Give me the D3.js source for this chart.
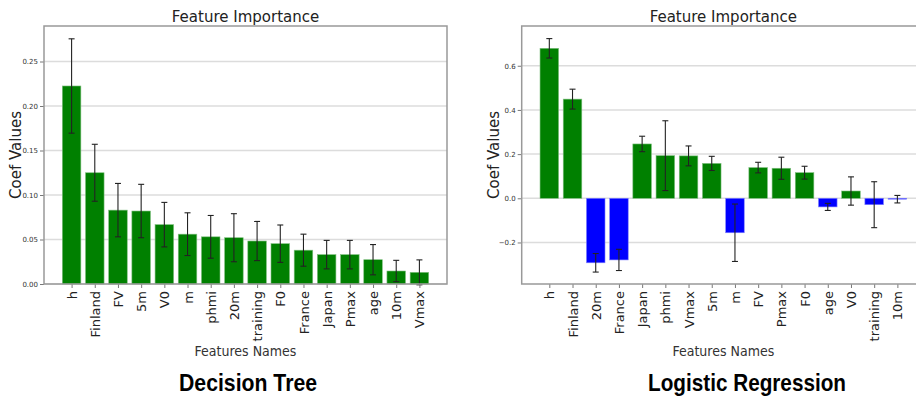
<!DOCTYPE html>
<html><head><meta charset="utf-8">
<script src="https://cdn.jsdelivr.net/npm/d3@7"></script>
<style>
html,body{margin:0;padding:0;background:#fff;}
svg{display:block;}
</style></head>
<body>
<svg id="chart" width="916" height="400"></svg>
<script>
// Decision Tree feature importance
const dtFeatures = ["h","Finland","FV","5m","V0","m","phmi","20m","training","F0","France","Japan","Pmax","age","10m","Vmax"];
const dtValues = [0.2225,0.125,0.083,0.082,0.0667,0.056,0.053,0.052,0.0483,0.0453,0.038,0.033,0.033,0.0273,0.0146,0.0131];
const dtErrors = [0.053,0.032,0.030,0.030,0.025,0.024,0.024,0.027,0.022,0.021,0.018,0.016,0.016,0.017,0.012,0.014];
const dtTicks = [0.00,0.05,0.10,0.15,0.20,0.25];

// Logistic Regression coefficients
const lrFeatures = ["h","Finland","20m","France","Japan","phmi","Vmax","5m","m","FV","Pmax","F0","age","V0","training","10m"];
const lrValues = [0.679,0.449,-0.292,-0.279,0.246,0.193,0.192,0.158,-0.156,0.139,0.136,0.116,-0.039,0.033,-0.029,-0.004];
const lrErrors = [0.044,0.045,0.042,0.048,0.035,0.158,0.045,0.032,0.13,0.024,0.05,0.029,0.016,0.064,0.104,0.017];
const lrTicks = [-0.2,0.0,0.2,0.4,0.6];

const titleText = "Feature Importance";
const xLabelText = "Features Names";
const yLabelText = "Coef Values";
const captions = ["Decision Tree","Logistic Regression"];

const svg = d3.select("#chart");

function panel(cfg){
  const {features, values, errors, ticks, yDomain, left, right, top, bottom, fmt, caption} = cfg;
  const g = svg.append("g");
  const x = d3.scaleLinear().domain([-1.19, features.length - 1 + 1.19]).range([left, right]);
  const y = d3.scaleLinear().domain(yDomain).range([bottom, top]);
  const bw = (x(1) - x(0)) * 0.8;
  const cx = (right + left) / 2;

  // gridlines
  g.append("g").selectAll("line").data(ticks).join("line")
    .attr("x1", left).attr("x2", right)
    .attr("y1", d => y(d)).attr("y2", d => y(d))
    .attr("stroke", "#dcdcdc").attr("stroke-width", 1.5);

  // bars
  g.append("g").selectAll("rect").data(values).join("rect")
    .attr("x", (d,i) => x(i) - bw/2)
    .attr("width", bw)
    .attr("y", d => y(Math.max(0, d)))
    .attr("height", d => Math.max(0.8, Math.abs(y(d) - y(0))))
    .attr("fill", d => d >= 0 ? "#008000" : "#0000ff")
    .attr("stroke", d => d >= 0 ? "#7fbf7f" : "#8080ff")
    .attr("stroke-width", 0.6);

  // error bars
  const eb = g.append("g").attr("stroke", "#222").attr("stroke-width", 1.1);
  values.forEach((v,i) => {
    const e = errors[i];
    const xi = x(i);
    eb.append("line").attr("x1", xi).attr("x2", xi).attr("y1", y(v - e)).attr("y2", y(v + e));
    eb.append("line").attr("x1", xi - 3).attr("x2", xi + 3).attr("y1", y(v - e)).attr("y2", y(v - e));
    eb.append("line").attr("x1", xi - 3).attr("x2", xi + 3).attr("y1", y(v + e)).attr("y2", y(v + e));
  });

  // y axis
  const ya = g.append("g").attr("transform", `translate(${left},0)`)
    .call(d3.axisLeft(y).tickValues(ticks).tickFormat(fmt).tickSize(4).tickPadding(2));
  ya.select(".domain").remove();
  ya.selectAll("line").attr("stroke", "#555").attr("stroke-width", 0.8);
  ya.selectAll("text").attr("font-family", "DejaVu Sans").attr("font-size", 7).attr("fill", "#333");

  // x axis
  const xa = g.append("g").attr("transform", `translate(0,${bottom})`)
    .call(d3.axisBottom(x).tickValues(d3.range(features.length)).tickFormat(i => features[i]).tickSize(4).tickPadding(5));
  xa.select(".domain").remove();
  xa.selectAll("line").attr("stroke", "#555").attr("stroke-width", 0.8);
  xa.selectAll("text")
    .attr("font-family", "DejaVu Sans").attr("font-size", 13).attr("fill", "#222")
    .attr("transform", "rotate(-90)")
    .attr("text-anchor", "end")
    .attr("dy", "0.35em")
    .attr("x", -7).attr("y", 0);

  // frame
  g.append("rect").attr("x", left).attr("y", top).attr("width", right - left).attr("height", bottom - top)
    .attr("fill", "none").attr("stroke", "#999").attr("stroke-width", 1.5);

  // title
  g.append("text").attr("x", cx).attr("y", 22).attr("text-anchor", "middle")
    .attr("font-family", "DejaVu Sans").attr("font-size", 15).attr("fill", "#222").text(titleText);
  // y label
  g.append("text").attr("transform", `translate(${left - 23},${(top + bottom)/2}) rotate(-90)`)
    .attr("text-anchor", "middle")
    .attr("font-family", "DejaVu Sans").attr("font-size", 15).attr("fill", "#222").text(yLabelText);
  // x label
  g.append("text").attr("x", cx).attr("y", 356).attr("text-anchor", "middle")
    .attr("font-family", "DejaVu Sans Condensed, DejaVu Sans").attr("font-stretch", "condensed")
    .attr("font-size", 14).attr("fill", "#333").text(xLabelText);
  // caption
  g.append("text").attr("x", caption.x).attr("y", 391).attr("text-anchor", "middle")
    .attr("font-family", "Liberation Sans Narrow, Liberation Sans")
    .attr("font-weight", "bold").attr("font-size", 24).attr("fill", "#000")
    .attr("textLength", caption.len).attr("lengthAdjust", "spacingAndGlyphs")
    .text(caption.text);
}

panel({features: dtFeatures, values: dtValues, errors: dtErrors, ticks: dtTicks,
  yDomain: [0, 0.2899], left: 44, right: 447, top: 26, bottom: 284,
  fmt: d3.format(".2f"), caption: {x: 248, len: 138, text: captions[0]}});

panel({features: lrFeatures, values: lrValues, errors: lrErrors, ticks: lrTicks,
  yDomain: [-0.388, 0.780], left: 521.7, right: 925, top: 26, bottom: 284,
  fmt: d => d3.format(".1f")(d).replace("-", "\u2212"), caption: {x: 747, len: 198, text: captions[1]}});
</script>
</body></html>
